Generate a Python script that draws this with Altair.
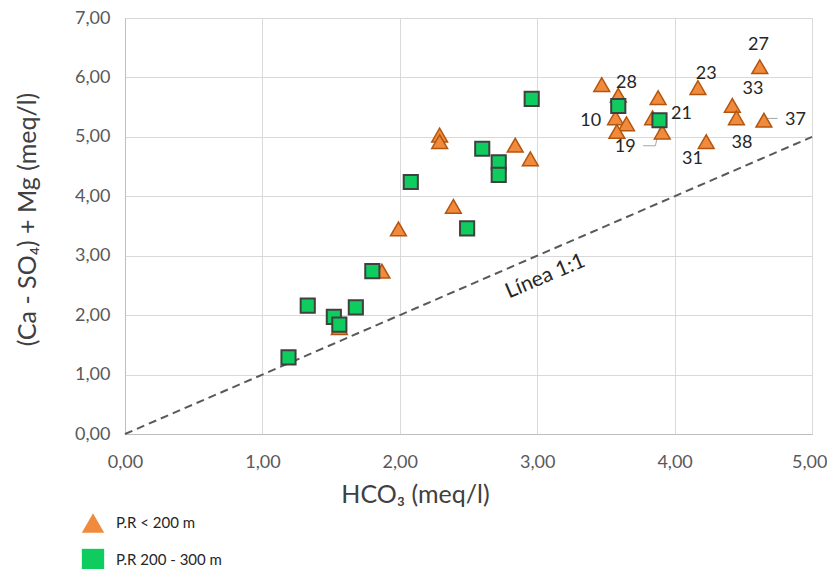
import altair as alt
import pandas as pd

FONT = "Lato"

# Series: P.R < 200 m (triangles)
tri_x = [3.47, 3.59, 3.57, 3.65, 3.58, 3.88, 3.84, 3.91, 4.17, 4.62, 4.42, 4.45, 4.65, 4.23,
         2.29, 2.29, 2.84, 2.95, 2.39, 1.99, 1.87, 1.56]
tri_y = [5.88, 5.70, 5.32, 5.22, 5.09, 5.66, 5.32, 5.08, 5.83, 6.18, 5.53, 5.32, 5.28, 4.92,
         5.03, 4.92, 4.86, 4.63, 3.83, 3.45, 2.74, 1.79]
# Series: P.R 200 - 300 m (squares)
sq_x = [2.96, 2.60, 2.72, 2.72, 2.08, 2.49, 1.80, 1.33, 1.52, 1.56, 1.68, 1.19, 3.59, 3.89]
sq_y = [5.64, 4.80, 4.57, 4.36, 4.24, 3.46, 2.74, 2.16, 1.97, 1.84, 2.13, 1.29, 5.52, 5.28]

groups = ["P.R < 200 m", "P.R 200 - 300 m"]

# Point labels
lab_text = ["27", "23", "28", "33", "10", "21", "37", "19", "38", "31"]
lab_x = [4.61, 4.23, 3.65, 4.57, 3.39, 4.05, 4.88, 3.64, 4.49, 4.13]
lab_y = [6.54, 6.06, 5.90, 5.80, 5.26, 5.38, 5.28, 4.83, 4.89, 4.63]

# Leader lines
lead_id = ["37", "37", "19", "19", "19"]
lead_x = [4.65, 4.75, 3.77, 3.86, 3.89]
lead_y = [5.31, 5.31, 4.85, 4.85, 5.15]

# 1:1 line
one_x = [0, 5]
one_y = [0, 5]
one_label = "Línea 1:1"
one_label_x = [3.06]
one_label_y = [2.65]

tri = pd.DataFrame({"x": tri_x, "y": tri_y, "g": [groups[0]] * len(tri_x)})
sq = pd.DataFrame({"x": sq_x, "y": sq_y, "g": [groups[1]] * len(sq_x)})
labels = pd.DataFrame({"t": lab_text, "x": lab_x, "y": lab_y})
leaders = pd.DataFrame({"id": lead_id, "x": lead_x, "y": lead_y})
leaders["o"] = range(len(leaders))
one = pd.DataFrame({"x": one_x, "y": one_y})
one_lab = pd.DataFrame({"x": one_label_x, "y": one_label_y, "t": [one_label]})

xs = alt.Scale(domain=[0, 5], nice=False, zero=False)
ys = alt.Scale(domain=[0, 7], nice=False, zero=False)

fmt = "replace(format(datum.value, '.2f'), '.', ',')"

x_axis = alt.Axis(title="HCO₃ (meq/l)", values=[0, 1, 2, 3, 4, 5], labelExpr=fmt,
                  grid=True, gridColor="#D9D9D9", ticks=False, domainColor="#BFBFBF",
                  labelFlush=False,
                  labelAlign={"condition": {"test": "datum.value == 5", "value": "right"}, "value": "center"},
                  labelOffset={"condition": {"test": "datum.value == 5", "value": 15}, "value": 0},
                  labelFont=FONT, labelFontSize=18, labelColor="#595959", labelPadding=19,
                  titleFont=FONT, titleFontSize=25, titleFontWeight="normal", titleColor="#404040",
                  titleX=290, titleY=60, titleBaseline="middle")
y_axis = alt.Axis(title="(Ca - SO₄) + Mg (meq/l)", values=[0, 1, 2, 3, 4, 5, 6, 7], labelExpr=fmt,
                  grid=True, gridColor="#D9D9D9", ticks=False, domainColor="#BFBFBF",
                  labelFlush=False,
                  labelFont=FONT, labelFontSize=18, labelColor="#595959", labelPadding=15,
                  titleFont=FONT, titleFontSize=25, titleFontWeight="normal", titleColor="#404040",
                  titleX=-98, titleY=201, titleBaseline="middle")

legend = alt.Legend(title=None, orient="none", legendX=-44, legendY=493, padding=0,
                    symbolSize=500, symbolStrokeWidth=1.2, symbolStrokeColor="#3A3A3A",
                    rowPadding=10, labelOffset=11, symbolOpacity=1,
                    labelFont=FONT, labelFontSize=15, labelColor="#262626")

fill_scale = alt.Scale(domain=groups, range=["#F08A3C", "#0ECC5E"])
shape_scale = alt.Scale(domain=groups, range=["triangle-up", "square"])

tri_layer = alt.Chart(tri).mark_point(filled=True, opacity=1, strokeWidth=1.5,
                                      stroke="#B4550F", size=250).encode(
    x=alt.X("x:Q", scale=xs, axis=x_axis),
    y=alt.Y("y:Q", scale=ys, axis=y_axis),
    fill=alt.Fill("g:N", scale=fill_scale, legend=legend),
    shape=alt.Shape("g:N", scale=shape_scale, legend=legend),
)
sq_layer = alt.Chart(sq).mark_point(filled=True, opacity=1, strokeWidth=2,
                                    stroke="#404040", size=200).encode(
    x=alt.X("x:Q", scale=xs),
    y=alt.Y("y:Q", scale=ys),
    fill=alt.Fill("g:N", scale=fill_scale, legend=legend),
    shape=alt.Shape("g:N", scale=shape_scale, legend=legend),
)

oneline = alt.Chart(one).mark_line(color="#595959", strokeWidth=2, strokeDash=[8, 5]).encode(
    x=alt.X("x:Q", scale=xs), y=alt.Y("y:Q", scale=ys))

onetext = alt.Chart(one_lab).mark_text(font=FONT, fontSize=21, color="#262626", angle=337,
                                       align="center", baseline="middle").encode(
    x=alt.X("x:Q", scale=xs), y=alt.Y("y:Q", scale=ys), text="t:N")

leadlines = alt.Chart(leaders).mark_line(color="#A6A6A6", strokeWidth=1).encode(
    x=alt.X("x:Q", scale=xs), y=alt.Y("y:Q", scale=ys), detail="id:N", order="o:Q")

labtext = alt.Chart(labels).mark_text(font=FONT, fontSize=18, color="#262626",
                                      align="center", baseline="middle").encode(
    x=alt.X("x:Q", scale=xs), y=alt.Y("y:Q", scale=ys), text="t:N")

chart = alt.layer(oneline, onetext, leadlines, tri_layer, sq_layer, labtext).properties(
    width=687, height=416,
    autosize=alt.AutoSizeParams(type="none"),
    padding={"left": 117, "top": 10, "right": 15, "bottom": 135},
).configure_view(stroke=None).configure(background="white")

chart.save("out.html", embed_options={"renderer": "svg", "actions": False})
